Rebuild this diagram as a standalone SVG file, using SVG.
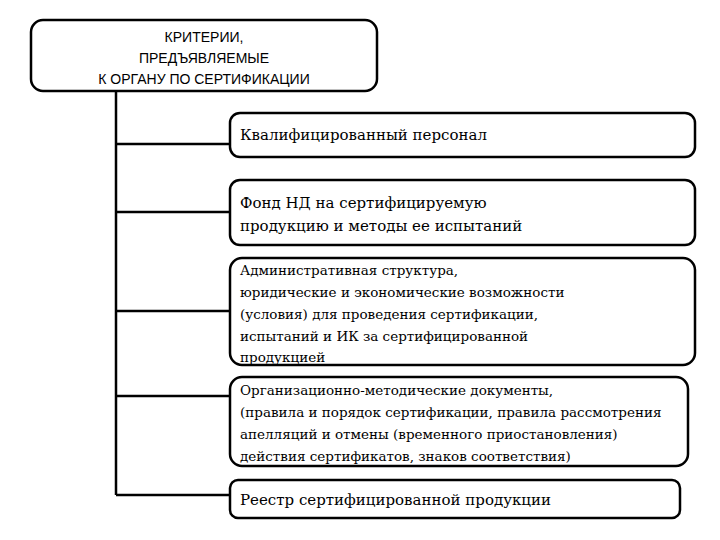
<svg xmlns="http://www.w3.org/2000/svg" width="720" height="540" viewBox="0 0 720 540">
<style>
.b{fill:#fff;stroke:#000;stroke-width:2.5}
.h{font-family:'Liberation Sans',Arial,sans-serif;font-size:14px;text-anchor:middle}
.t{font-family:'DejaVu Serif','Liberation Serif',serif;font-size:15px}
.s{font-family:'DejaVu Serif','Liberation Serif',serif;font-size:13.5px}
.c{stroke:#000;stroke-width:2.5;fill:none}
</style>
<rect width="720" height="540" fill="#fff"/>
<g id="connectors">
<path class="c" d="M116 91V495M116 144H230M116 212H230M116 311H230M116 396H230M116 495H230"/>
</g>
<g id="root"><rect class="b" x="31" y="20" width="346" height="71" rx="12"/>
<text class="h" x="204" y="42">КРИТЕРИИ,</text><text class="h" x="204" y="63">ПРЕДЪЯВЛЯЕМЫЕ</text><text class="h" x="204" y="84">К ОРГАНУ ПО СЕРТИФИКАЦИИ</text></g>
<g id="n1"><rect class="b" x="230" y="113" width="465" height="44" rx="10"/><text class="t" x="240" y="140">Квалифицированный персонал</text></g>
<g id="n2"><rect class="b" x="230" y="180" width="465" height="65" rx="10"/><text class="t" x="240" y="208">Фонд НД на сертифицируемую</text><text class="t" x="240" y="231">продукцию и методы ее испытаний</text></g>
<g id="n3"><rect class="b" x="230" y="258" width="465" height="107" rx="12"/>
<text class="s" x="240" y="275">Административная структура,</text>
<text class="s" x="240" y="297">юридические и экономические возможности</text>
<text class="s" x="240" y="319">(условия) для проведения сертификации,</text>
<text class="s" x="240" y="341">испытаний и ИК за сертифицированной</text>
<text class="s" x="240" y="362">продукцией</text></g>
<g id="n4"><rect class="b" x="230" y="377" width="458" height="89" rx="12"/>
<text class="s" x="240" y="395">Организационно-методические документы,</text>
<text class="s" x="240" y="417">(правила и порядок сертификации, правила рассмотрения</text>
<text class="s" x="240" y="439">апелляций и отмены (временного приостановления)</text>
<text class="s" x="240" y="461">действия сертификатов, знаков соответствия)</text></g>
<g id="n5"><rect class="b" x="230" y="480" width="450" height="38" rx="8"/><text class="t" x="240" y="505">Реестр сертифицированной продукции</text></g>
</svg>
